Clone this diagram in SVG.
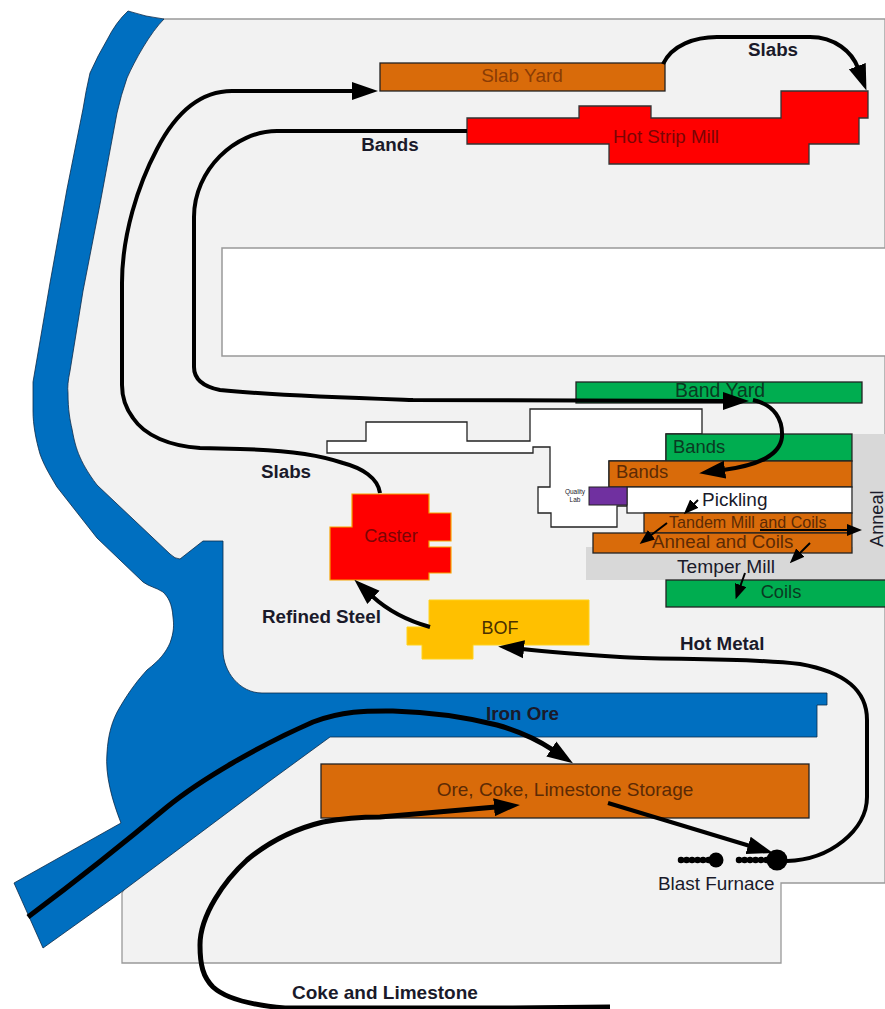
<svg xmlns="http://www.w3.org/2000/svg" width="885" height="1009" viewBox="0 0 885 1009">
<style>
text{font-family:"Liberation Sans",Arial,sans-serif;fill:#1a1a2a}
.b{font-weight:bold;font-size:18.8px}
.m{text-anchor:middle}
.o{fill:#d96b0a;stroke:#222;stroke-width:1.3}
.g{fill:#00ad50;stroke:#222;stroke-width:1.3}
.r{fill:#ff0000;stroke:#333;stroke-width:1.3}
.c{fill:none;stroke:#000;stroke-width:4}
.s{fill:none;stroke:#000;stroke-width:2}
.on{fill:#5c2a05}
.rn{fill:#7a0505}
.gn{fill:#0a3a22}
</style>
<defs>
<marker id="head" markerUnits="userSpaceOnUse" markerWidth="26" markerHeight="20" refX="2" refY="10" orient="auto" viewBox="0 0 26 20"><polygon points="0,1 26,10 0,19" fill="#000"/></marker>
<marker id="small" markerUnits="userSpaceOnUse" markerWidth="15" markerHeight="12" refX="2" refY="6" orient="auto" viewBox="0 0 15 12"><polygon points="0,0 15,6 0,12" fill="#000"/></marker>
</defs>
<rect width="885" height="1009" fill="#fff"/>
<g id="site"><path d="M164,19 L885,19 L885,883 L781,883 L781,963 L122,963 L122,893 L200,760 L190,680 L190,600 L185,575 L90,490 L60,430 L58,371 L90,204 L115,85 L140,30 Z" fill="#f2f2f2" stroke="#999" stroke-width="1.3"/></g>
<g id="river"><path d="M128,11 Q146,17 164,19 C150,33 135,60 127,78 Q121,95 117,113 L100,204 L83,291 L70,371 Q67,385 68,393 C68,410 70,420 72,429 C75,445 78,460 97,485 L170,554 Q175,559 180,559 L203,541 L223,541 L223,650 C223,672 240,693 262,693 L827,693 L827,705 L817,705 L817,737 L330,737 L267,783 L120,893 L43,948 L14,883 L121,823 C112,800 105,775 107,753 C108,735 112,720 120,707 C130,690 138,680 147,670 C160,660 166,652 170,643 C174,632 174,625 173,617 C172,603 168,597 163,592 C155,587 150,587 143,582 L97,538 L57,487 C48,472 44,465 40,454 C36,440 33,425 33,411 L33,382 L50,283 L67,189 L83,109 Q86,90 90,73 Q98,55 107,40 Q116,22 128,11 Z" fill="#006fc0" stroke="#0b2b4a" stroke-width="0.8"/></g>
<g id="hole"><rect x="222" y="248" width="670" height="108" fill="#fff" stroke="#999" stroke-width="1.5"/></g>
<g id="anneal-bay"><path d="M853,434 H885 V580 H586 V547 H853 Z" fill="#d8d8d8"/><text x="883" y="547" font-size="18.2" transform="rotate(-90 883 547)">Anneal</text></g>
<g id="office"><polygon points="327,441 366,441 366,422 467,422 467,441 530,441 530,409 702,409 702,434 666,434 666,461 609,461 609,487 627,487 627,506 617,506 617,527 551,527 551,513 538,513 538,487 550,487 550,447 533,447 533,453 327,453" fill="#fff" stroke="#222" stroke-width="1.3"/><polyline points="627,506 658,506 658,513" fill="none" stroke="#222" stroke-width="1.3"/></g>
<g id="slab-yard"><rect class="o" x="380" y="63" width="285" height="28"/><text class="m" x="522" y="82" font-size="19" style="fill:#8a3c05">Slab Yard</text></g>
<g id="hot-strip-mill"><polygon class="r" points="467,118 579,118 579,106 651,106 651,118 781,118 781,91 868,91 868,118 859,118 859,144 809,144 809,164 609,164 609,144 467,144"/><text class="m rn" x="666" y="143" font-size="18.7">Hot Strip Mill</text></g>
<g id="band-yard"><rect class="g" x="576" y="382" width="286" height="21"/><text class="m gn" x="720" y="397" font-size="19.4">Band Yard</text></g>
<g id="bands-green"><rect class="g" x="666" y="434" width="186" height="27"/><text class="gn" x="673" y="453" font-size="18.4">Bands</text></g>
<g id="bands-orange"><rect class="o" x="609" y="461" width="243" height="26"/><text class="on" x="616" y="478" font-size="18.4">Bands</text></g>
<g id="pickling"><rect x="627" y="487" width="225" height="26" fill="#fff" stroke="#222" stroke-width="1.3"/><text x="702" y="506" font-size="19">Pickling</text></g>
<g id="quality-lab"><rect x="589" y="487" width="38" height="18" fill="#7030a0" stroke="#222" stroke-width="1"/><text x="575" y="494" class="m" font-size="6.5">Quality</text><text x="575" y="502" class="m" font-size="6.5">Lab</text></g>
<g id="tandem-mill"><rect class="o" x="644" y="513" width="208" height="20"/><text class="on" x="669" y="528" font-size="16.1">Tandem Mill and Coils</text></g>
<g id="anneal-coils"><rect class="o" x="593" y="533" width="259" height="20"/><text class="on" x="652" y="548" font-size="18.7">Anneal and Coils</text></g>
<g id="temper-mill"><text x="677" y="573" font-size="19.2">Temper Mill</text></g>
<g id="coils"><rect class="g" x="666" y="580" width="225" height="27"/><text class="m gn" x="781" y="598" font-size="18.3">Coils</text></g>
<g id="caster"><polygon points="352,494 429,494 429,513 451,513 451,541 429,541 429,547 451,547 451,573 429,573 429,580 330,580 330,527 352,527" fill="#ff0000" stroke="#f5a300" stroke-width="1.2"/><text class="m rn" x="391" y="542" font-size="18.2">Caster</text></g>
<g id="bof"><polygon points="429,600 589,600 589,645 473,645 473,659 422,659 422,645 407,645 407,627 429,627" fill="#ffc000" stroke="#ffd21a" stroke-width="1"/><text class="m" x="500" y="634" font-size="18" style="fill:#4a3000">BOF</text></g>
<g id="storage"><rect class="o" x="321" y="764" width="488" height="54"/><text class="m on" x="565" y="796" font-size="19">Ore, Coke, Limestone Storage</text></g>
<g id="blast-furnace"><circle cx="777" cy="860" r="10.5"/><circle cx="716" cy="860" r="7.5"/><line x1="681" y1="860" x2="710" y2="860" stroke="#000" stroke-width="6.5" stroke-linecap="round" stroke-dasharray="0.1 5.4"/><line x1="739" y1="860" x2="770" y2="860" stroke="#000" stroke-width="6.5" stroke-linecap="round" stroke-dasharray="0.1 5.4"/><text x="658" y="890" font-size="18.9">Blast Furnace</text></g>
<g id="connectors">
<path class="c" marker-end="url(#head)" d="M380,493 C378,478 362,468 343,463 C320,455 285,450 240,449 L200,448 C170,446 145,436 133,418 C124,406 122,395 122,385 L122,283 C122,235 138,185 157,149 C172,120 195,91 232,91 L354,91"/>
<path class="c" marker-end="url(#head)" d="M467,131 L277,131 C235,131 194,170 194,217 L194,367 C194,380 205,387 220,390 C280,396 350,398 413,400 L725,401"/>
<path class="c" marker-end="url(#head)" d="M753,400 C775,405 783,420 782,437 C780,455 760,465 723,470"/>
<path class="c" marker-end="url(#head)" d="M663,64 C672,45 695,37 717,37 L810,37 C835,37 852,52 858,68"/>
<path class="c" marker-end="url(#head)" d="M430,627 C405,620 385,608 372,596"/>
<path class="c" marker-end="url(#head)" d="M787,861 C830,860 867,830 867,797 L867,720 C867,690 845,672 800,664 C740,657 660,660 620,657 C590,655 550,652 522,649"/>
<path class="c" style="stroke-width:5" marker-end="url(#head)" d="M28,917 C80,878 130,838 167,807 C200,780 260,745 313,722 C345,710 370,711 393,711 C430,712 465,717 497,725 C515,730 535,738 553,750"/>
<path class="c" style="stroke-width:5" marker-end="url(#head)" d="M610,1007 L513,1008 L285,1008 C250,1005 225,998 213,987 C203,977 200,965 200,945 C200,915 225,880 247,860 C265,845 290,830 323,822 C345,818 360,817 380,817 L496,807"/>
<path class="c" marker-end="url(#head)" d="M608,803 L750,846"/>
<path class="s" marker-end="url(#small)" d="M698,500 L693,505"/>
<path class="s" marker-end="url(#small)" d="M667,523 L650,536"/>
<path class="s" marker-end="url(#small)" d="M760,530 L849,530"/>
<path class="s" marker-end="url(#small)" d="M810,543 L799,554"/>
<path class="s" marker-end="url(#small)" d="M745,573 L740,587"/>
</g>
<g id="flow-labels">
<text class="b m" x="773" y="56">Slabs</text>
<text class="b m" x="390" y="151">Bands</text>
<text class="b m" x="286" y="478">Slabs</text>
<text class="b" x="262" y="623">Refined Steel</text>
<text class="b" x="680" y="650">Hot Metal</text>
<text class="b" x="486" y="720">Iron Ore</text>
<text class="b" x="292" y="999" style="font-size:19px">Coke and Limestone</text>
</g>
</svg>
